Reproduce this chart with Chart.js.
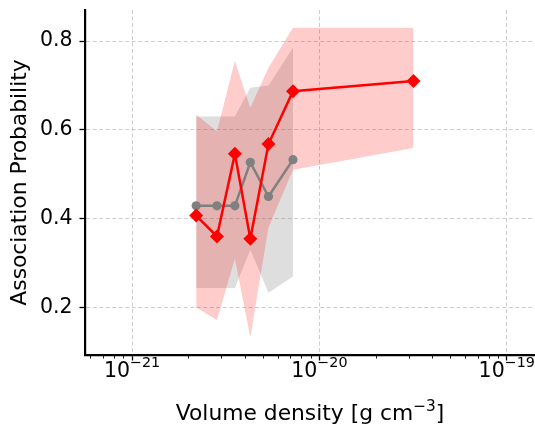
<!DOCTYPE html>
<html>
<head>
<meta charset="utf-8">
<script src="https://cdn.jsdelivr.net/npm/chart.js@4/dist/chart.umd.min.js"></script>
<style>
  html, body { margin: 0; padding: 0; background: #ffffff; }
  #wrap { width: 535px; height: 424px; }
</style>
</head>
<body>
<div id="wrap"><canvas id="c" width="535" height="424"></canvas></div>
<script>
// Volume density bins [g cm^-3]
const densities = [2.20e-21, 2.84e-21, 3.54e-21, 4.28e-21, 5.35e-21, 7.23e-21, 3.18e-20];

// Grey sample: mean association probability and its band
const greyProb  = [0.429, 0.429, 0.429, 0.527, 0.450, 0.533];
const greyUpper = [0.630, 0.630, 0.630, 0.695, 0.700, 0.785];
const greyLower = [0.244, 0.244, 0.244, 0.330, 0.233, 0.270];

// Red sample: mean association probability and its band
const redProb  = [0.407, 0.360, 0.546, 0.355, 0.568, 0.687, 0.710];
const redUpper = [0.634, 0.597, 0.755, 0.650, 0.740, 0.830, 0.830];
const redLower = [0.200, 0.172, 0.310, 0.133, 0.380, 0.510, 0.559];

// Axis ticks
const xTickValues = [1e-21, 1e-20, 1e-19];
const xTickBase = '10';
const xTickExponents = ['\u221221', '\u221220', '\u221219'];
const yTickValues = [0.2, 0.4, 0.6, 0.8];
const yTickLabels = ['0.2', '0.4', '0.6', '0.8'];

const FONT = '"DejaVu Sans", "Liberation Sans", sans-serif';
const GRID = 'rgba(170,170,170,0.65)';

const pts = (xs, ys) => ys.map((y, i) => ({ x: xs[i], y }));

// log-axis tick list: decades are major, 2..9 multiples are minor
function logTicks(min, max) {
  const out = [];
  for (let e = Math.floor(Math.log10(min)); e <= Math.ceil(Math.log10(max)); e++) {
    for (let k = 1; k <= 9; k++) {
      const v = k * Math.pow(10, e);
      if (v >= min && v <= max) out.push({ value: v, major: k === 1 });
    }
  }
  return out;
}

// draws minor x ticks and the 10^n labels / axis title with superscripts
const mathLabels = {
  id: 'mathLabels',
  afterDraw(chart) {
    const ctx = chart.ctx, xs = chart.scales.x, area = chart.chartArea;
    ctx.save();
    // minor ticks
    ctx.strokeStyle = '#000';
    ctx.lineWidth = 0.9;
    xs.ticks.forEach(t => {
      if (t.major) return;
      const px = Math.round(xs.getPixelForValue(t.value)) + 0.5;
      ctx.beginPath();
      ctx.moveTo(px, area.bottom);
      ctx.lineTo(px, area.bottom + 3.5);
      ctx.stroke();
    });
    ctx.fillStyle = '#000';
    ctx.textBaseline = 'alphabetic';
    ctx.textAlign = 'left';
    const baseSize = 20.5, supSize = 14.3;
    xTickValues.forEach((v, i) => {
      const px = xs.getPixelForValue(v);
      ctx.font = baseSize + 'px ' + FONT;
      const wb = ctx.measureText(xTickBase).width;
      ctx.font = supSize + 'px ' + FONT;
      const we = ctx.measureText(xTickExponents[i]).width;
      const left = px - (wb + we) / 2;
      ctx.font = baseSize + 'px ' + FONT;
      ctx.fillText(xTickBase, left, area.bottom + 22);
      ctx.font = supSize + 'px ' + FONT;
      ctx.fillText(xTickExponents[i], left + wb, area.bottom + 12);
    });
    // x-axis title
    const tSize = 21.8, tSup = 15.3;
    const pre = 'Volume density [g cm', sup = '\u22123', post = ']';
    ctx.font = tSize + 'px ' + FONT;
    const w1 = ctx.measureText(pre).width, w3 = ctx.measureText(post).width;
    ctx.font = tSup + 'px ' + FONT;
    const w2 = ctx.measureText(sup).width;
    let x0 = (area.left + area.right) / 2 - (w1 + w2 + w3) / 2;
    const yb = area.bottom + 65;
    ctx.font = tSize + 'px ' + FONT;
    ctx.fillText(pre, x0, yb);
    ctx.font = tSup + 'px ' + FONT;
    ctx.fillText(sup, x0 + w1, yb - 9.5);
    ctx.font = tSize + 'px ' + FONT;
    ctx.fillText(post, x0 + w1 + w2, yb);
    ctx.restore();
  }
};

const band = (data, color, fill, order) => ({
  data, fill, order, backgroundColor: color, borderWidth: 0, pointRadius: 0, pointHoverRadius: 0, tension: 0
});

new Chart(document.getElementById('c'), {
  type: 'line',
  data: {
    datasets: [
      band(pts(densities, greyUpper), 'rgba(128,128,128,0.26)', '+1', 6),
      band(pts(densities, greyLower), 'rgba(0,0,0,0)', false, 6),
      band(pts(densities, redUpper), 'rgba(255,0,0,0.2)', '+1', 5),
      band(pts(densities, redLower), 'rgba(0,0,0,0)', false, 5),
      {
        data: pts(densities, greyProb), order: 2, fill: false,
        borderColor: '#808080', borderWidth: 2.5, tension: 0,
        pointStyle: 'circle', pointRadius: 4.6, pointBackgroundColor: '#808080', pointBorderWidth: 0
      },
      {
        data: pts(densities, redProb), order: 1, fill: false,
        borderColor: '#ff0000', borderWidth: 2.5, tension: 0,
        pointStyle: 'rectRot', pointRadius: 7, pointBackgroundColor: '#ff0000', pointBorderWidth: 0
      }
    ]
  },
  options: {
    responsive: false,
    animation: false,
    events: [],
    layout: { autoPadding: false, padding: { top: 10, right: 0, left: 0, bottom: 0 } },
    plugins: { legend: { display: false }, tooltip: { enabled: false }, filler: { propagate: false } },
    scales: {
      x: {
        type: 'logarithmic',
        min: Math.pow(10, -21.251),
        max: Math.pow(10, -18.849),
        afterBuildTicks: s => { s.ticks = logTicks(s.min, s.max); },
        afterFit: s => { s.height = 69; s.paddingLeft = 0; s.paddingRight = 0; },
        ticks: { callback: () => '', autoSkip: false, maxRotation: 0, minRotation: 0 },
        grid: {
          color: c => (c.tick && c.tick.major) ? GRID : 'rgba(0,0,0,0)',
          lineWidth: 0.9,
          drawTicks: true, tickLength: 5.5, tickWidth: 1.3, tickBorderDash: [],
          tickColor: c => (c.tick && c.tick.major) ? '#000' : 'rgba(0,0,0,0)'
        },
        border: { display: true, color: '#000', width: 2.2, dash: [4, 2.5] }
      },
      y: {
        type: 'linear',
        min: 0.093,
        max: 0.870,
        afterBuildTicks: s => { s.ticks = yTickValues.map(v => ({ value: v })); },
        afterFit: s => { s.width = 85; s.paddingTop = 0; s.paddingBottom = 0; },
        ticks: {
          callback: v => { const i = yTickValues.findIndex(t => Math.abs(t - v) < 1e-9); return i >= 0 ? yTickLabels[i] : ''; },
          autoSkip: false, padding: 7, color: '#000',
          font: { family: FONT, size: 20.5 }
        },
        grid: {
          color: GRID, lineWidth: 0.9,
          drawTicks: true, tickLength: 5.5, tickWidth: 1.3, tickColor: '#000', tickBorderDash: []
        },
        border: { display: true, color: '#000', width: 2.2, dash: [4, 2.5] },
        title: {
          display: true, text: 'Association Probability', color: '#000',
          font: { family: FONT, size: 21.8, lineHeight: 1.2 },
          padding: { top: 7.3, bottom: 0 }
        }
      }
    }
  },
  plugins: [mathLabels]
});
</script>
</body>
</html>
